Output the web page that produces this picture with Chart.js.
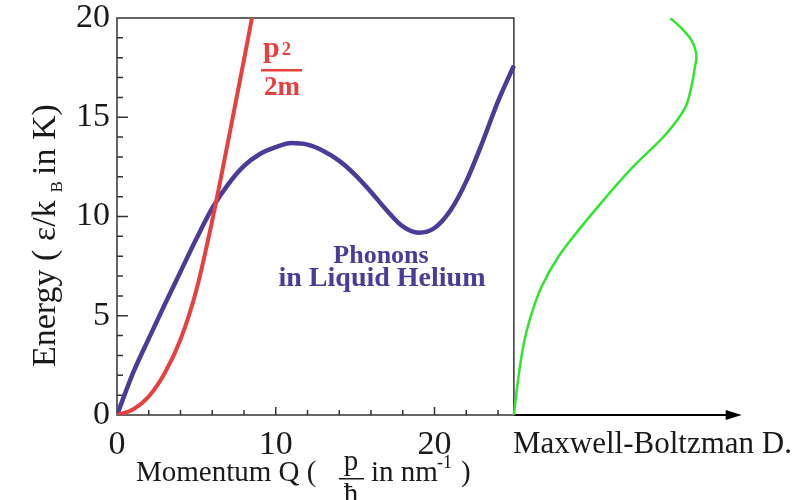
<!DOCTYPE html>
<html>
<head>
  <meta charset="utf-8" />
  <title>Phonons in Liquid Helium</title>
  <script src="https://cdn.jsdelivr.net/npm/chart.js@4.4.4/dist/chart.umd.min.js"></script>
  <style>
    body { margin: 0; background: #fff; }
    #stage { display: block; }
  </style>
</head>
<body>
  <canvas id="stage" width="797" height="500"></canvas>
  <script>
    // momentum Q (nm^-1) and energy (K)
    const phononQ = [0, 1, 2, 3, 4, 5, 6, 7, 8, 9, 10, 11, 12, 13, 14, 15, 16, 17, 18, 19, 20, 21, 22, 23, 24, 25];
    const phononE = [0, 2.1, 3.85, 5.55, 7.22, 8.88, 10.42, 11.62, 12.55, 13.15, 13.5, 13.7, 13.62, 13.3, 12.8, 12.1, 11.24, 10.3, 9.5, 9.18, 9.42, 10.3, 11.77, 13.7, 15.8, 17.6];

    const freeQ = [0, 1, 2, 3, 4, 5, 6, 7, 8, 8.5];
    const freeE = [0, 0.28, 0.93, 2.1, 3.8, 6.3, 9.8, 13.8, 17.9, 20];

    // Maxwell-Boltzmann distribution (arbitrary units) against energy
    const mbE = [0, 1.8, 3.45, 4.8, 6.47, 7.97, 9.3, 10.5, 11.8, 12.5, 14.17, 15.5, 16.5, 17.5, 18.0, 18.86, 19.45, 20.0];
    const mbValue = [0, 0.27, 0.59, 1.0, 1.75, 2.8, 4.06, 5.3, 6.7, 7.5, 9.6, 10.8, 11.17, 11.4, 11.5, 11.2, 10.6, 9.85];

    const xLabels = [0, 10, 20];
    const yLabels = [0, 5, 10, 15, 20];

    const serif = '"Liberation Serif", "DejaVu Serif", serif';
    const purple = '#4b3c9a';
    const red = '#e8403e';
    const green = '#2ee62e';

    function pairs(xs, ys) {
      return xs.map((x, i) => ({ x: x, y: ys[i] }));
    }

    const frame = {
      id: 'frame',
      beforeDatasetsDraw(chart) {
        const ctx = chart.ctx;
        const x = chart.scales.x, y = chart.scales.y;
        const left = x.getPixelForValue(0), right = x.getPixelForValue(25);
        const top = y.getPixelForValue(20), bottom = y.getPixelForValue(0);
        ctx.save();
        ctx.strokeStyle = '#333';
        ctx.lineWidth = 1.5;
        ctx.strokeRect(left, top, right - left, bottom - top);
        ctx.beginPath();
        for (let v = 1; v < 20; v++) {
          const py = y.getPixelForValue(v);
          ctx.moveTo(left, py);
          ctx.lineTo(left + (v % 5 === 0 ? 11 : 6), py);
        }
        for (let v = 2; v < 25; v += 2) {
          const px = x.getPixelForValue(v);
          ctx.moveTo(px, bottom);
          ctx.lineTo(px, bottom - (v % 10 === 0 ? 8 : 5));
        }
        ctx.stroke();
        // arrow for the distribution axis
        const tip = x.getPixelForValue(39.35);
        ctx.strokeStyle = '#000';
        ctx.fillStyle = '#000';
        ctx.lineWidth = 2;
        ctx.beginPath();
        ctx.moveTo(right, bottom);
        ctx.lineTo(tip - 10, bottom);
        ctx.stroke();
        ctx.beginPath();
        ctx.moveTo(tip, bottom);
        ctx.lineTo(tip - 16, bottom - 5);
        ctx.lineTo(tip - 16, bottom + 5);
        ctx.closePath();
        ctx.fill();
        ctx.restore();
      },
      afterDraw(chart) {
        const ctx = chart.ctx;
        ctx.save();
        ctx.fillStyle = '#1a1a1a';
        ctx.textBaseline = 'alphabetic';

        // x title: Momentum Q ( p/ħ in nm^-1 )
        ctx.font = '29px ' + serif;
        ctx.textAlign = 'left';
        ctx.fillText('Momentum Q (', 136, 481);
        ctx.textAlign = 'center';
        ctx.fillText('p', 351, 470);
        ctx.fillText('ħ', 351, 503);
        ctx.fillRect(339, 478, 25, 1.5);
        ctx.textAlign = 'left';
        ctx.fillText('in nm', 371, 481);
        ctx.font = '18px ' + serif;
        ctx.fillText('-1', 437, 468);
        ctx.font = '29px ' + serif;
        ctx.fillText(')', 461, 481);

        // y title, rotated
        ctx.translate(55, 367);
        ctx.rotate(-Math.PI / 2);
        ctx.font = '34px ' + serif;
        let pos = 0;
        const part1 = 'Energy ( ε/k';
        ctx.fillText(part1, pos, 0);
        pos += ctx.measureText(part1).width + 8;
        ctx.font = '17px ' + serif;
        ctx.fillText('B', pos, 7);
        pos += ctx.measureText('B').width + 6;
        ctx.font = '34px ' + serif;
        ctx.fillText('in K)', pos, 0);
        ctx.setTransform(1, 0, 0, 1, 0, 0);

        // distribution label
        ctx.font = '31px ' + serif;
        ctx.fillText('Maxwell-Boltzman D.', 513, 453);

        // p^2 / 2m
        ctx.fillStyle = red;
        ctx.font = 'bold 30px ' + serif;
        ctx.fillText('p', 263, 57);
        ctx.font = 'bold 18px ' + serif;
        ctx.fillText('2', 282, 55);
        ctx.fillRect(261, 69, 41, 2.5);
        ctx.font = 'bold 27px ' + serif;
        ctx.textAlign = 'center';
        ctx.fillText('2m', 282, 95);

        // phonon label
        ctx.fillStyle = purple;
        ctx.font = 'bold 26px ' + serif;
        ctx.fillText('Phonons', 381, 263);
        ctx.font = 'bold 28px ' + serif;
        ctx.fillText('in Liquid Helium', 382, 286);
        ctx.restore();
      }
    };

    new Chart(document.getElementById('stage'), {
      type: 'line',
      data: {
        datasets: [{
          label: 'p^2/2m',
          data: pairs(freeQ, freeE),
          borderColor: red,
          borderWidth: 4,
          pointRadius: 0,
          cubicInterpolationMode: 'monotone',
          xAxisID: 'x'
        }, {
          label: 'Phonons',
          data: pairs(phononQ, phononE),
          borderColor: purple,
          borderWidth: 4.5,
          pointRadius: 0,
          cubicInterpolationMode: 'monotone',
          xAxisID: 'x'
        }, {
          label: 'Maxwell-Boltzmann',
          data: pairs(mbValue, mbE),
          indexAxis: 'y',
          borderColor: green,
          borderWidth: 2.5,
          pointRadius: 0,
          cubicInterpolationMode: 'monotone',
          xAxisID: 'xmb'
        }]
      },
      options: {
        responsive: false,
        animation: false,
        events: [],
        layout: { padding: { top: 18, right: 45, bottom: 0, left: 0 } },
        plugins: {
          legend: { display: false },
          tooltip: { enabled: false }
        },
        scales: {
          x: {
            type: 'linear',
            min: 0,
            max: 40,
            grid: { display: false, drawTicks: false },
            border: { display: false },
            afterFit(scale) { scale.height = 85; scale.paddingLeft = 0; scale.paddingRight = 0; },
            ticks: {
              stepSize: 2,
              autoSkip: false,
              maxRotation: 0,
              padding: 10,
              color: '#1a1a1a',
              font: { family: serif, size: 34 },
              callback: v => xLabels.includes(v) ? String(v) : ''
            }
          },
          xmb: {
            type: 'linear',
            display: false,
            min: -25,
            max: 15
          },
          y: {
            type: 'linear',
            min: 0,
            max: 20,
            grid: { display: false, drawTicks: false },
            border: { display: false },
            afterFit(scale) { scale.width = 117; scale.paddingTop = 0; scale.paddingBottom = 0; },
            ticks: {
              stepSize: 1,
              autoSkip: false,
              padding: 7,
              color: '#1a1a1a',
              font: { family: serif, size: 34 },
              callback: v => yLabels.includes(v) ? String(v) : ''
            }
          }
        }
      },
      plugins: [frame]
    });
  </script>
</body>
</html>
